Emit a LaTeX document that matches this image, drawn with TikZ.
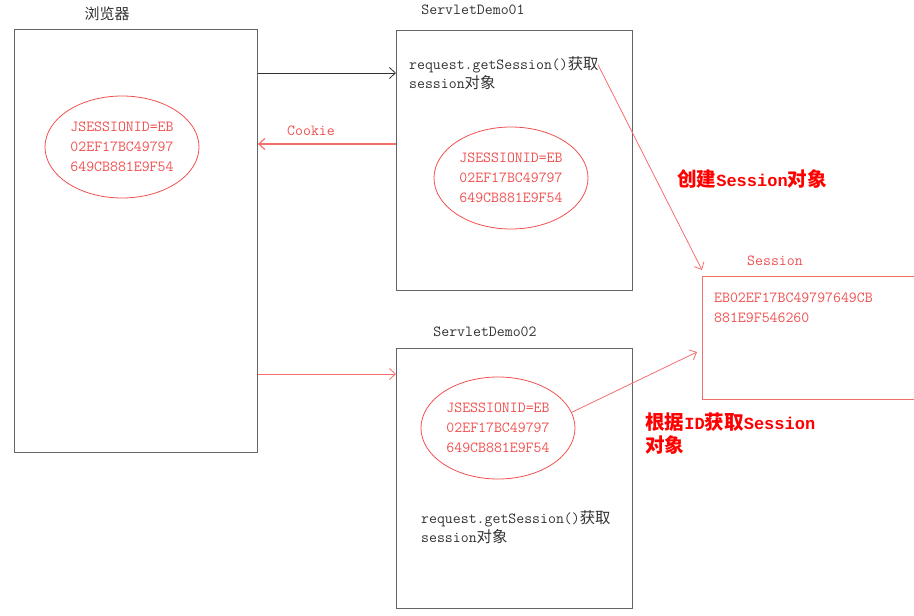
\documentclass[tikz,border=0pt]{standalone}
\usepackage{fontspec}
\setmainfont{Liberation Mono}
\newfontfamily\cjk{Noto Sans CJK SC}[Scale=1.15]
\newfontfamily\cjkn{Noto Sans CJK SC}[Scale=1.0]
\usetikzlibrary{arrows.meta,shapes.geometric,calc}
\definecolor{boxgray}{RGB}{100,100,100}
\definecolor{inkgray}{RGB}{50,50,50}
\definecolor{softred}{RGB}{240,80,80}
\definecolor{linered}{RGB}{245,110,110}
\definecolor{pure}{RGB}{255,0,0}
\tikzset{
  box/.style={draw=boxgray, line width=0.9pt, rectangle, anchor=north west, inner sep=0pt},
  sbox/.style={draw=linered, line width=0.9pt, rectangle, anchor=north west, inner sep=0pt},
  idoval/.style={draw=softred, line width=0.8pt, ellipse, inner sep=0pt,
    minimum width=154pt, minimum height=102pt, text=softred, align=center,
    font=\ttfamily\fontsize{15.4}{20}\selectfont},
  plain/.style={text=inkgray, inner sep=0pt, font=\ttfamily\fontsize{15.4}{19}\selectfont},
  redtxt/.style={text=softred, inner sep=0pt, font=\ttfamily\fontsize{15.4}{20}\selectfont},
  boldred/.style={text=pure, inner sep=0pt, align=left, font=\fontsize{17}{23}\selectfont\bfseries},
  barb/.style={-{Straight Barb[length=6pt,width=11pt]}, line width=0.8pt},
}
\begin{document}
\begin{tikzpicture}[x=1pt,y=-1pt]
\useasboundingbox (0,0) rectangle (914,616);

% containers
\node[box, minimum width=243pt, minimum height=423pt] (browser) at (14,29) {};
\node[box, minimum width=236pt, minimum height=260pt] (demo1) at (396,30) {};
\node[box, minimum width=236pt, minimum height=260pt] (demo2) at (396,348) {};
\node[sbox, minimum width=240pt, minimum height=123pt] (sess) at (702,276) {};

% titles
\node[text=inkgray, inner sep=0pt, font=\fontsize{15}{16}\selectfont] (tbrowser) at (107,14) {\cjkn 浏览器};
\node[plain] (tdemo1) at (473,10) {ServletDemo01};
\node[plain] (tdemo2) at (485,332) {ServletDemo02};
\node[redtxt] (tsess) at (775,261) {Session};

% session id ovals
\node[idoval] (id0) at (122,147) {JSESSIONID=EB\\02EF17BC49797\\649CB881E9F54};
\node[idoval] (id1) at (511,178) {JSESSIONID=EB\\02EF17BC49797\\649CB881E9F54};
\node[idoval] (id2) at (498,428) {JSESSIONID=EB\\02EF17BC49797\\649CB881E9F54};

% servlet notes
\node[plain, anchor=west, align=left] (get1) at (409,73.5) {request.getSession(){\cjkn 获取}\\session{\cjkn 对象}};
\node[plain, anchor=west, align=left] (get2) at (421,527.5) {request.getSession(){\cjkn 获取}\\session{\cjkn 对象}};

% session store content
\node[redtxt, anchor=west, align=left] (sid) at (714,308) {EB02EF17BC49797649CB\\881E9F546260};

% labels
\node[redtxt] (lcookie) at (311,131) {Cookie};
\node[boldred, anchor=west] (lcreate) at (677,179) {{\cjk 创建}Session{\cjk 对象}};
\node[boldred, anchor=north west] (lfind) at (645,413) {{\cjk 根据}ID{\cjk 获取}Session\\{\cjk 对象}};

% connectors
\draw[barb, draw=inkgray] ([yshift=-44pt]browser.north east) -- ([yshift=-43pt]demo1.north west);
\draw[barb, draw=linered, line width=1.2pt] ([yshift=-114pt]demo1.north west) -- ([yshift=-115pt]browser.north east);
\draw[barb, draw=linered] ([yshift=-345pt]browser.north east) -- ([yshift=-26pt]demo2.north west);
\draw[barb, draw=linered] ([xshift=189pt,yshift=-8pt]get1.north west) -- ([yshift=6pt]sess.north west);
\draw[barb, draw=linered] (id2.12) -- ([xshift=-5pt,yshift=-76pt]sess.north west);
\end{tikzpicture}
\end{document}
